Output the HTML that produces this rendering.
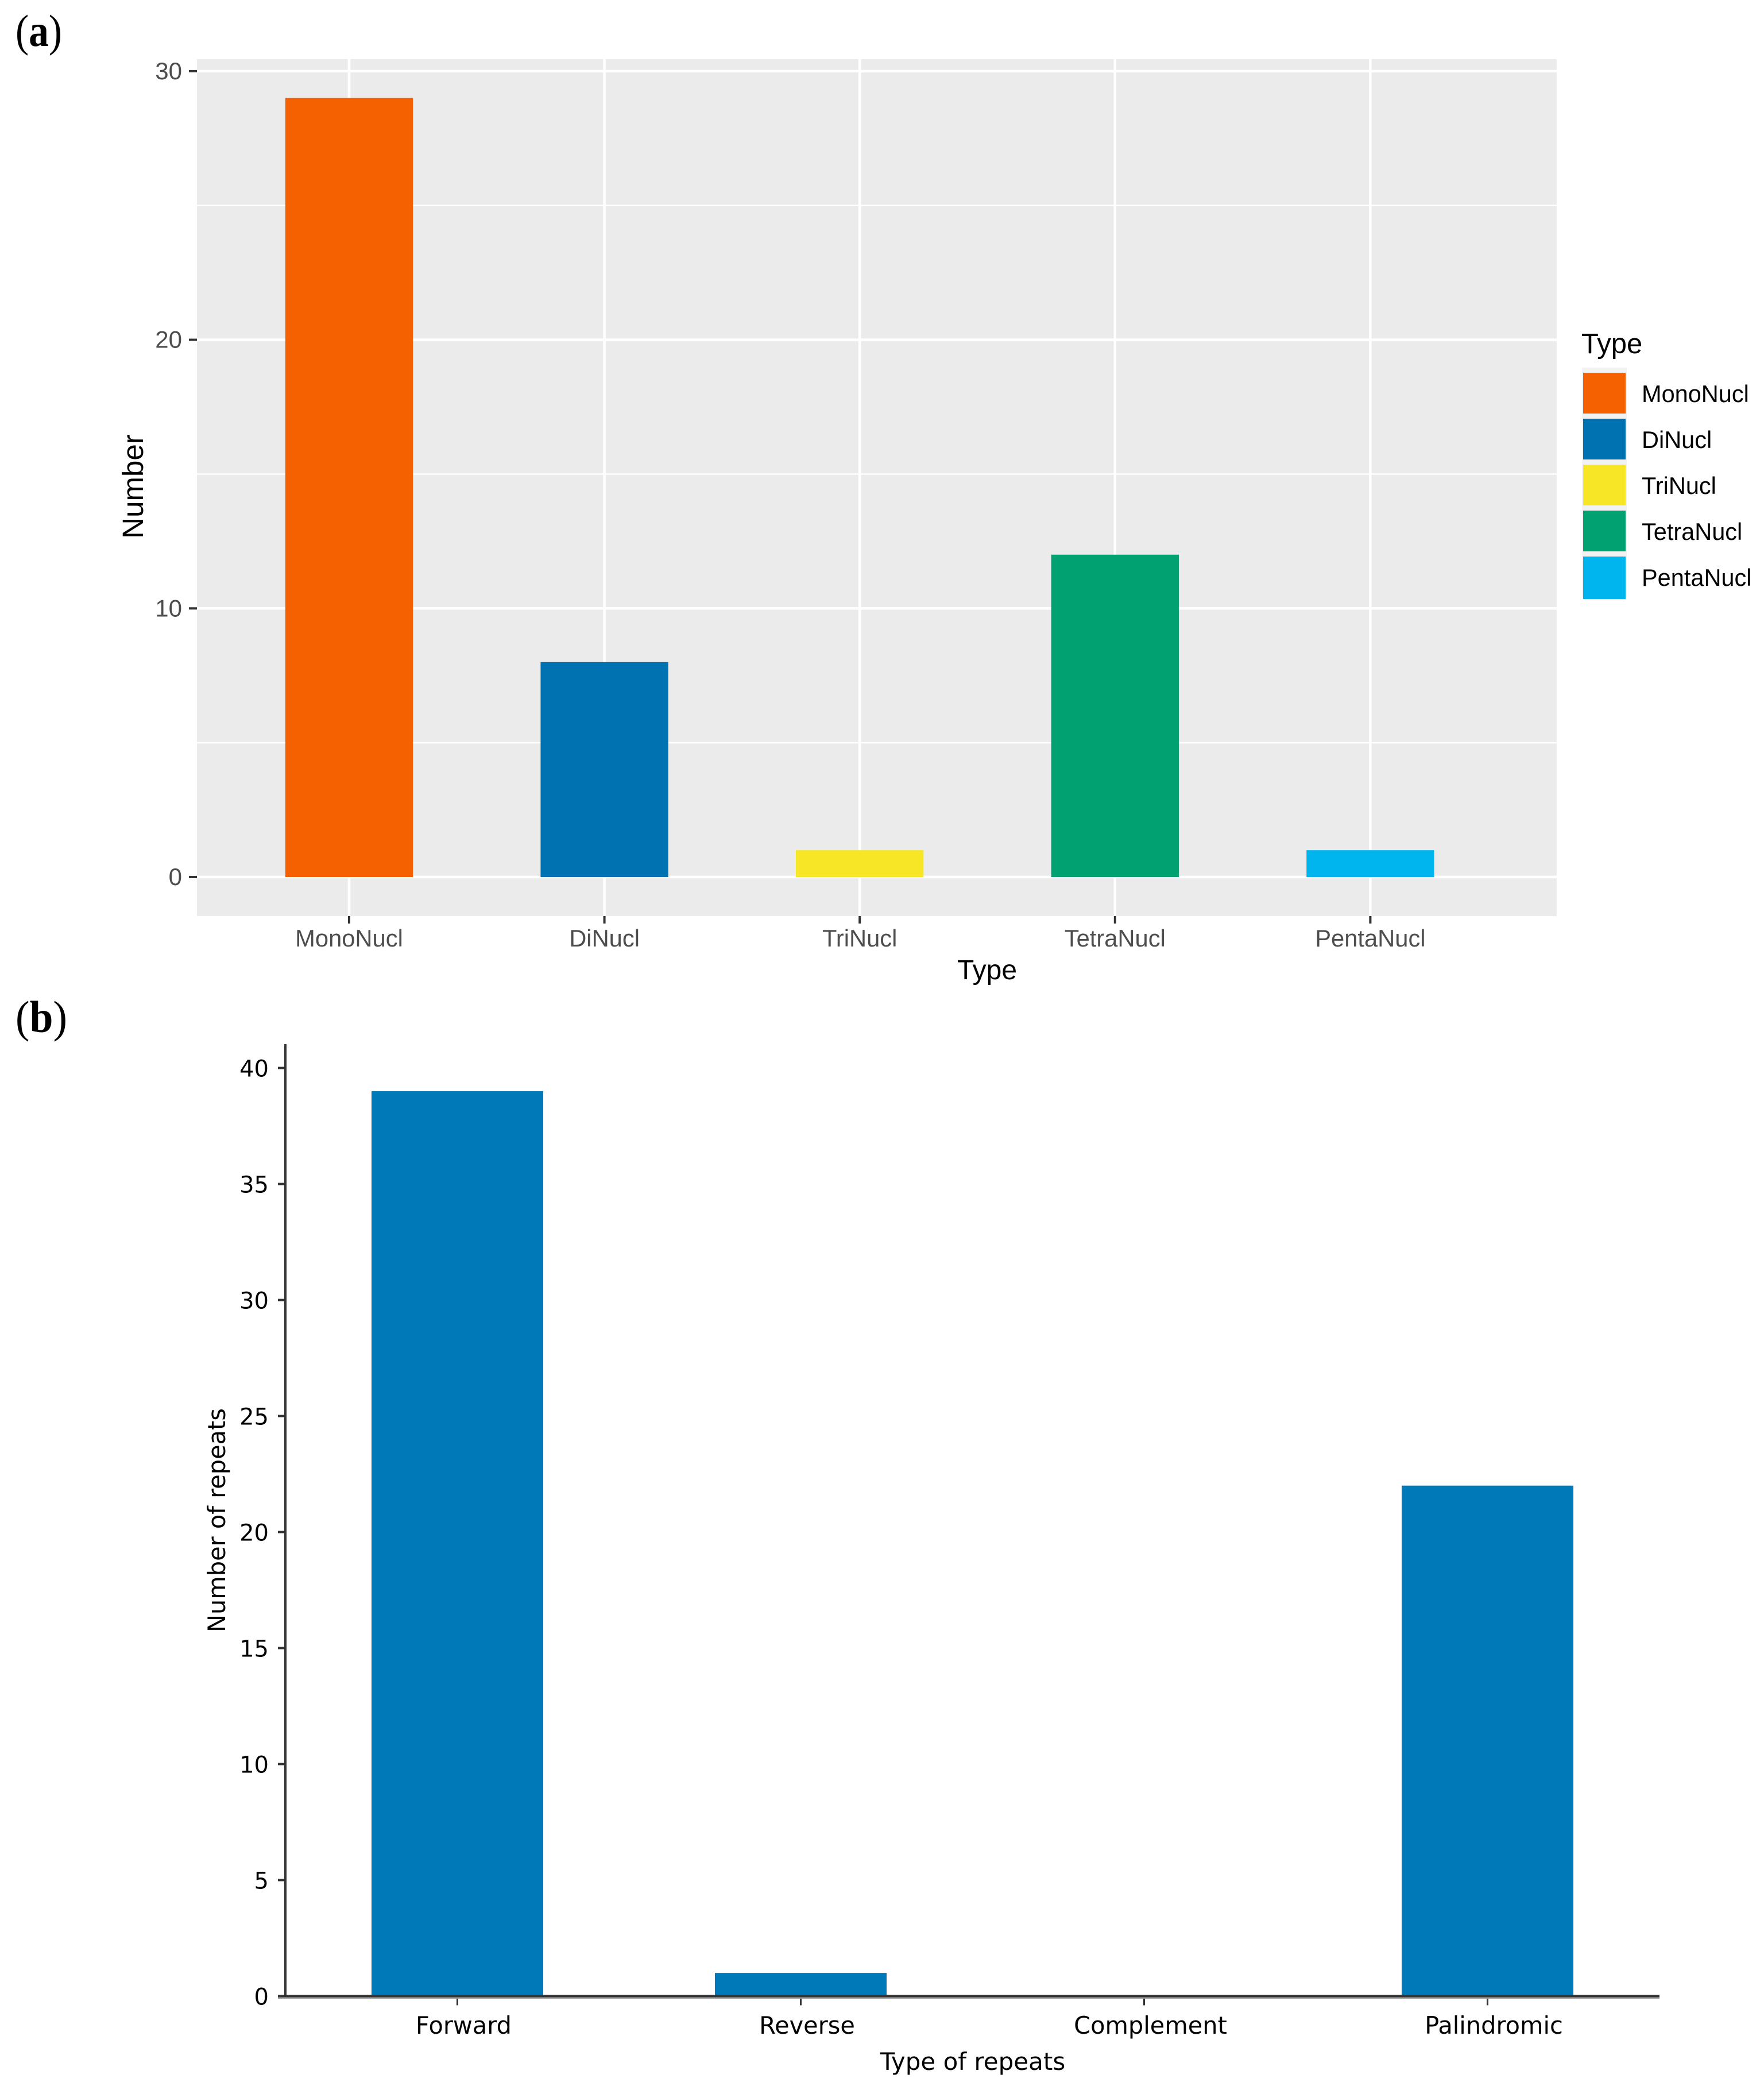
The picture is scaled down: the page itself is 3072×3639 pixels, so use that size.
<!DOCTYPE html>
<html lang="en">
<head>
<meta charset="utf-8">
<title>Repeat type bar charts</title>
<style>
html,body{margin:0;padding:0;background:#fff;}
svg{display:block;}
.helv{font-family:"Liberation Sans",Arial,sans-serif;}
.dejavu{font-family:"DejaVu Sans",sans-serif;}
.serif{font-family:"Liberation Serif",serif;}
.serif tspan{font-weight:bold;}
</style>
</head>
<body>
<svg id="figure" xmlns="http://www.w3.org/2000/svg" width="3072" height="3639" viewBox="0 0 3072 3639">
  <rect x="0" y="0" width="3072" height="3639" fill="#ffffff"/>
  <text class="serif" x="27" y="80" font-size="78" textLength="81" lengthAdjust="spacingAndGlyphs" fill="#000">(<tspan>a</tspan>)</text>
  <text class="serif" x="27" y="1797" font-size="78" textLength="90" lengthAdjust="spacingAndGlyphs" fill="#000">(<tspan>b</tspan>)</text>

  <g id="chartA">
    <rect x="343" y="103" width="2368" height="1492" fill="#ebebeb"/>
    <g id="gridA"></g>
    <g id="barsA"></g>
    <g id="axisA"></g>
    <text class="helv" x="1719" y="1705" font-size="48" text-anchor="middle" fill="#000">Type</text>
    <text class="helv" transform="translate(249,847) rotate(-90)" font-size="51" text-anchor="middle" fill="#000">Number</text>
    <g id="legendA">
      <text class="helv" x="2754" y="615" font-size="49" fill="#000">Type</text>
    </g>
  </g>

  <g id="chartB">
    <g id="barsB"></g>
    <g id="axisB"></g>
    <text class="dejavu" x="1694" y="3604" font-size="42" text-anchor="middle" fill="#000">Type of repeats</text>
    <text class="dejavu" transform="translate(392,2647) rotate(-90)" font-size="41.5" text-anchor="middle" fill="#000">Number of repeats</text>
  </g>
</svg>
<script>
const typeCategories = ["MonoNucl", "DiNucl", "TriNucl", "TetraNucl", "PentaNucl"];
const typeValues = [29, 8, 1, 12, 1];
const typeColors = ["#f56000", "#0072b2", "#f6e626", "#02a172", "#00b5ee"];
const typeMajorTicks = [0, 10, 20, 30];
const typeMinorTicks = [5, 15, 25];

const repeatCategories = ["Forward", "Reverse", "Complement", "Palindromic"];
const repeatValues = [39, 1, 0, 22];
const repeatTicks = [0, 5, 10, 15, 20, 25, 30, 35, 40];

const SVG_NS = "http://www.w3.org/2000/svg";

function xA(i) { return 608 + i * 444.6; }
function yA(v) { return 1527 - v * 46.77; }
function xB(i) { return 796.5 + i * 598; }
function yB(v) { return 3475.5 - v * 40.4; }

function makeRect(parent, x, y, w, h, fill) {
  const el = document.createElementNS(SVG_NS, "rect");
  el.setAttribute("x", x);
  el.setAttribute("y", y);
  el.setAttribute("width", w);
  el.setAttribute("height", h);
  el.setAttribute("fill", fill);
  parent.appendChild(el);
  return el;
}

function makeText(parent, str, x, y, size, anchor, fill, cls) {
  const el = document.createElementNS(SVG_NS, "text");
  el.setAttribute("x", x);
  el.setAttribute("y", y);
  el.setAttribute("font-size", size);
  el.setAttribute("text-anchor", anchor);
  el.setAttribute("fill", fill);
  el.setAttribute("class", cls);
  el.textContent = str;
  parent.appendChild(el);
  return el;
}

const gridA = document.getElementById("gridA");
const barsA = document.getElementById("barsA");
const axisA = document.getElementById("axisA");
const legendA = document.getElementById("legendA");
const barsB = document.getElementById("barsB");
const axisB = document.getElementById("axisB");

typeMinorTicks.forEach(function (v) {
  const line = makeRect(gridA, 343, yA(v) - 1.25, 2368, 2.5, "#ffffff");
  
  
});

typeMajorTicks.forEach(function (v) {
  const line = makeRect(gridA, 343, yA(v) - 2.25, 2368, 4.5, "#ffffff");
  
  
  const tick = makeRect(axisA, 329, yA(v) - 2, 14, 4, "#333333");
  
  
  const label = makeText(axisA, String(v), 317, yA(v) + 14, 42, "end", "#4d4d4d", "helv");
  
  
});

typeCategories.forEach(function (name, i) {
  const line = makeRect(gridA, xA(i) - 2.25, 103, 4.5, 1492, "#ffffff");
  
  

  const bar = makeRect(barsA, xA(i) - 111.15, yA(typeValues[i]), 222.3, yA(0) - yA(typeValues[i]), typeColors[i]);
  
  

  const tick = makeRect(axisA, xA(i) - 2, 1595, 4, 13, "#333333");
  
  

  const label = makeText(axisA, name, xA(i), 1648, 41.7, "middle", "#4d4d4d", "helv");
  
  

  const top = 640 + i * 80;
  const keyBack = makeRect(legendA, 2755, top, 78, 80, "#f2f2f2");
  
  
  const key = makeRect(legendA, 2757, top + 9, 74, 74, typeColors[i]);
  
  
  const keyLabel = makeText(legendA, name, 2859, top + 60, 41.5, "start", "#000000", "helv");
  
  
});

repeatCategories.forEach(function (name, i) {
  const bar = makeRect(barsB, xB(i) - 149.5, yB(repeatValues[i]), 299, yB(0) - yB(repeatValues[i]), "#0079b8");
  
  

  const tick = makeRect(axisB, xB(i) - 1.5, yB(0), 3, 16, "#333333");
  
  

  const label = makeText(axisB, name, xB(i) + 11, 3541, 41.5, "middle", "#000000", "dejavu");
  
  
});

repeatTicks.forEach(function (v) {
  const tick = makeRect(axisB, 484, yB(v) - 2, 13, 4, "#333333");
  
  
  const label = makeText(axisB, String(v), 468, yB(v) + 15, 40, "end", "#000000", "dejavu");
  
  
});

const yAxisLine = makeRect(axisB, 495, 1818, 4, yB(0) - 1818 + 3, "#333333");



const xAxisShadow = makeRect(axisB, 484, yB(0) + 2, 2406, 2.5, "#999999");



const xAxisLine = makeRect(axisB, 484, yB(0) - 2, 2406, 4, "#333333");


</script>
</body>
</html>
